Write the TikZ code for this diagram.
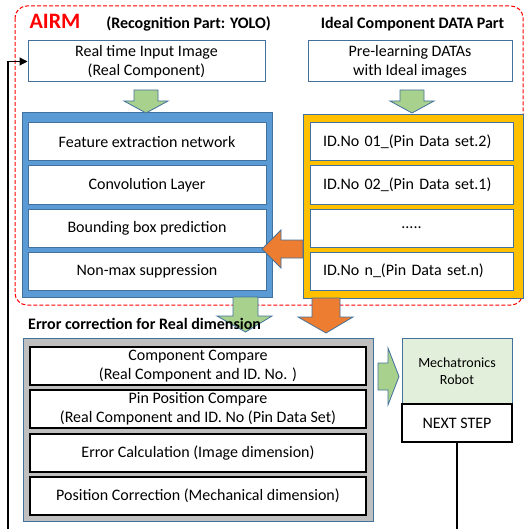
\documentclass[tikz,border=0pt]{standalone}
\usepackage{fontspec}
\setmainfont{Carlito}
\usetikzlibrary{arrows.meta}
\definecolor{boxblue}{HTML}{5B9BD5}
\definecolor{edgeblue}{HTML}{41719C}
\definecolor{idyellow}{HTML}{FFC000}
\definecolor{arrorange}{HTML}{ED7D31}
\definecolor{arrgreen}{HTML}{A9D18E}
\definecolor{errgray}{HTML}{BFBFBF}
\definecolor{robotgreen}{HTML}{E2EFDA}
\tikzset{
  txt/.style={font=\fontsize{16}{19}\selectfont},
  head/.style={font=\fontsize{16}{18}\selectfont\bfseries},
  inbox/.style={txt, draw=edgeblue, fill=white, line width=1pt, minimum height=41pt, inner sep=0pt, align=center},
  outerbox/.style={draw=edgeblue, line width=1pt, inner sep=0pt},
  layer/.style={txt, draw=edgeblue, fill=white, line width=1pt, minimum width=238pt, minimum height=38pt, inner sep=0pt, align=center},
  idrow/.style={txt, draw=edgeblue, fill=white, line width=1pt, text width=177pt, minimum height=38pt, inner xsep=13pt, inner ysep=0pt, align=left},
  errrow/.style={txt, draw=black, fill=white, line width=1.2pt, minimum width=336pt, minimum height=38pt, inner sep=0pt, align=center},
  blockarrow/.style={draw=edgeblue, line width=0.8pt, line join=miter},
}

\begin{document}
\begin{tikzpicture}[x=1pt, y=-1pt]
  \useasboundingbox (0,0) rectangle (526,529);
  \clip (0,0) rectangle (526,529);

  \draw[red, dash pattern=on 4pt off 2pt, line width=1pt, rounded corners=12pt] (15,6) rectangle (523,305);

  \node[red, font=\fontsize{22}{24}\selectfont\bfseries] (airm) at (55,21) {AIRM};
  \node[head] (recoghead) at (188.5,24) {(Recognition Part: YOLO)};
  \node[head] (idealhead) at (412.5,24) {Ideal Component DATA Part};

  \node[inbox, minimum width=237pt] (input) at (146.5,61.5) {Real time Input Image\\(Real Component)};
  \node[inbox, minimum width=204pt] (prelearn) at (410,61.5) {Pre-learning DATAs\\with Ideal images};

  \node[outerbox, fill=boxblue, minimum width=250pt, minimum height=184pt] (yolo) at (147,205) {};
  \node[layer] (feature) at (147,142) {Feature extraction network};
  \node[layer] (conv) at (147,185) {Convolution Layer};
  \node[layer] (bbox) at (147,228) {Bounding box prediction};
  \node[layer] (nms) at (147,271) {Non-max suppression};

  \node[outerbox, fill=idyellow, minimum width=220pt, minimum height=183pt] (ideal) at (413,206.5) {};
  \node[idrow] (id1) at (411.5,142) {ID.No 01\_(Pin Data set.2)};
  \node[idrow] (id2) at (411.5,185) {ID.No 02\_(Pin Data set.1)};
  \node[idrow, align=center] (iddots) at (411.5,228) {.....};
  \node[idrow] (idn) at (411.5,271) {ID.No n\_(Pin Data set.n)};

  \node[outerbox, fill=errgray, minimum width=350pt, minimum height=183pt] (errbox) at (198,429.5) {};
  \node[errrow] (compcmp) at (198,366) {Component Compare\\(Real Component and ID. No. )};
  \node[errrow] (pincmp) at (198,409) {Pin Position Compare\\(Real Component and ID. No (Pin Data Set)};
  \node[errrow] (errcalc) at (198,453) {Error Calculation (Image dimension)};
  \node[errrow] (poscorr) at (198,496) {Position Correction (Mechanical dimension)};

  \node[draw=edgeblue, fill=robotgreen, line width=1pt, minimum width=110pt, minimum height=66pt, inner sep=0pt, align=center, font=\fontsize{14}{17}\selectfont] (robot) at (457,371) {Mechatronics\\Robot};
  \node[txt, draw=black, fill=white, line width=1.2pt, minimum width=110pt, minimum height=38pt, inner sep=0pt] (next) at (457,423) {NEXT STEP};

  \draw[blockarrow, fill=arrgreen] (134,90) -- (158,90) -- (158,101) -- (168,101) -- (146,113) -- (124,101) -- (134,101) -- cycle;
  \draw[blockarrow, fill=arrgreen] (400,90) -- (424,90) -- (424,101) -- (434,101) -- (412,113) -- (390,101) -- (400,101) -- cycle;
  \draw[blockarrow, fill=arrorange] (303,240) -- (281,240) -- (281,230) -- (262,249) -- (281,268) -- (281,258) -- (303,258) -- cycle;
  \draw[blockarrow, fill=arrgreen] (233,297) -- (258,297) -- (258,316) -- (272,316) -- (245.5,332) -- (217,316) -- (233,316) -- cycle;
  \draw[blockarrow, fill=arrorange] (312,298) -- (340,298) -- (340,317) -- (353,317) -- (326,333) -- (298,317) -- (312,317) -- cycle;
  \draw[blockarrow, fill=arrgreen] (378,363) -- (388,363) -- (388,348) -- (399,376.5) -- (388,405) -- (388,390) -- (378,390) -- cycle;

  \node[head, anchor=west, inner sep=0pt] (errhead) at (28,324) {Error correction for Real dimension};

  \coordinate (loopbot) at (8,545);
  \draw[line width=1.2pt, -{Triangle[length=8pt, width=8pt]}] (next.south) |- (loopbot) |- (input.west);
\end{tikzpicture}
\end{document}
